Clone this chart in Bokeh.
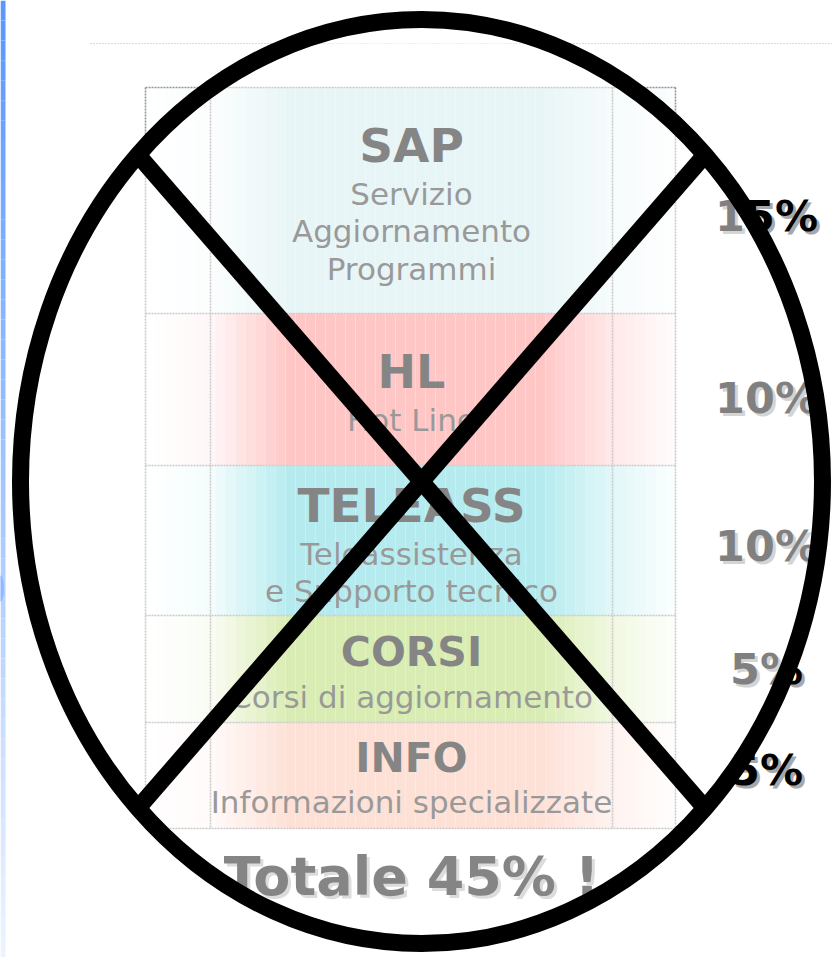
import numpy as np
from bokeh.plotting import figure
from bokeh.models import Range1d
from bokeh.core.properties import value
from bokeh.embed import file_html
from bokeh.resources import INLINE

# ---------------- data ----------------
services = ["SAP", "HL", "TELEASS", "CORSI", "INFO"]
descriptions = [
    ["Servizio", "Aggiornamento", "Programmi"],
    ["Hot Line"],
    ["Teleassistenza", "e Supporto tecnico"],
    ["Corsi di aggiornamento"],
    ["Informazioni specializzate"],
]
percents = [15, 10, 10, 5, 5]
row_colors = ["#d1ebed", "#ff8d8d", "#6bd7dd", "#b3d967", "#fbc1ad"]

# ---------------- layout (pixels) ----------------
W, H = 832, 957
X0, XC1, XC2, X1 = 145, 210, 612, 675
row_edges = [87, 313, 465, 615, 722, 828]
title_mid = [145, 371, 505, 651, 757]
title_size = ["47px", "46px", "47px", "41px", "41px"]
desc_mid = [193, 419, 553, 696, 801]
desc_step = 37.5
pct_mid = [215, 397, 545, 668, 769]
pct_x = 766
text_x = 411
total_mid = 876
FONT = value("DejaVu Sans")

p = figure(width=W, height=H, x_range=Range1d(0, W), y_range=Range1d(H, 0),
           output_backend="svg", toolbar_location=None, min_border=0,
           background_fill_color="white", border_fill_color="white")
p.axis.visible = False
p.grid.visible = False
p.outline_line_color = None

# left blue slide bar (gradient)
n = 48
ys = np.linspace(0, H, n + 1)
c0 = np.array([88, 152, 255]); c1 = np.array([236, 243, 255])
cols = ["#%02x%02x%02x" % tuple((c0 + (c1 - c0) * (i / (n - 1))).astype(int)) for i in range(n)]
p.quad(left=0, right=5, top=ys[:-1], bottom=ys[1:], fill_color=cols, line_color=None)
p.ellipse(x=[0], y=[588], width=[7], height=[26], fill_color="#8fbaff", line_color=None)

# dotted header line
p.segment(x0=[90], y0=[43], x1=[832], y1=[43], line_color="#b4b4b4", line_width=1, line_dash="1 2")

# row backgrounds: horizontal gradient strips
ns = 53
sx = np.linspace(X0, X1, ns + 1)
mid = (sx[:-1] + sx[1:]) / 2
alpha = np.interp(mid, [X0, XC1, 290, 540, XC2, X1], [0.0, 0.15, 1.0, 1.0, 0.4, 0.05])
L, R, T, B, C, A = [], [], [], [], [], []
for i in range(len(services)):
    for k in range(ns):
        L.append(sx[k]); R.append(sx[k + 1])
        T.append(row_edges[i]); B.append(row_edges[i + 1])
        C.append(row_colors[i]); A.append(alpha[k])
p.quad(left=L, right=R, top=T, bottom=B, fill_color=C, fill_alpha=A, line_color=None)

# table grid
gx0 = [X0, X1, XC1, XC2] + [X0] * len(row_edges)
gx1 = [X0, X1, XC1, XC2] + [X1] * len(row_edges)
gy0 = [row_edges[0]] * 4 + row_edges
gy1 = [row_edges[-1]] * 4 + row_edges
p.segment(x0=gx0, y0=gy0, x1=gx1, y1=gy1, line_color="#959595", line_width=1.6, line_dash="2 1")

# titles and descriptions
for i, s in enumerate(services):
    p.text(x=[text_x], y=[title_mid[i]], text=[s], text_font=FONT, text_font_style="bold",
           text_font_size=title_size[i], text_align="center", text_baseline="middle",
           text_color="#0a0a0a")
    for j, d in enumerate(descriptions[i]):
        p.text(x=[text_x], y=[desc_mid[i] + j * desc_step], text=[d], text_font=FONT,
               text_font_size="31px", text_align="center", text_baseline="middle",
               text_color="#333333")

# percentages (with shadow)
labels = [f"{v}%" for v in percents]
p.text(x=[pct_x + 3] * 5, y=[b + 3 for b in pct_mid], text=labels, text_font=FONT,
       text_font_style="bold", text_font_size="43px", text_align="center",
       text_baseline="middle", text_color="#a8a8a8")
p.text(x=[pct_x] * 5, y=pct_mid, text=labels, text_font=FONT, text_font_style="bold",
       text_font_size="43px", text_align="center", text_baseline="middle", text_color="#000000")

# total
total = f"Totale {sum(percents)}% !"
p.text(x=[text_x + 3], y=[total_mid + 3], text=[total], text_font=FONT, text_font_style="bold",
       text_font_size="54px", text_align="center", text_baseline="middle", text_color="#b8b8b8")
p.text(x=[text_x], y=[total_mid], text=[total], text_font=FONT, text_font_style="bold",
       text_font_size="54px", text_align="center", text_baseline="middle", text_color="#0a0a0a")

# crossing-out ellipse and X
ecx, ecy, ea, eb = 421, 481, 401, 462
p.ellipse(x=[ecx], y=[ecy], width=[2 * ea], height=[2 * eb], fill_color="white",
          fill_alpha=0.5, line_color=None)
d = np.sqrt(0.5)
p.segment(x0=[ecx - ea * d, ecx + ea * d], y0=[ecy - eb * d, ecy - eb * d],
          x1=[ecx + ea * d, ecx - ea * d], y1=[ecy + eb * d, ecy + eb * d],
          line_color="black", line_width=17)
p.ellipse(x=[ecx], y=[ecy], width=[2 * ea], height=[2 * eb], fill_color=None,
          line_color="black", line_width=17)

html = file_html(p, INLINE)
html = html.replace("</head>", "<style>html,body{margin:0;padding:0;overflow:hidden;}</style></head>", 1)
open("out.html", "w").write(html)
